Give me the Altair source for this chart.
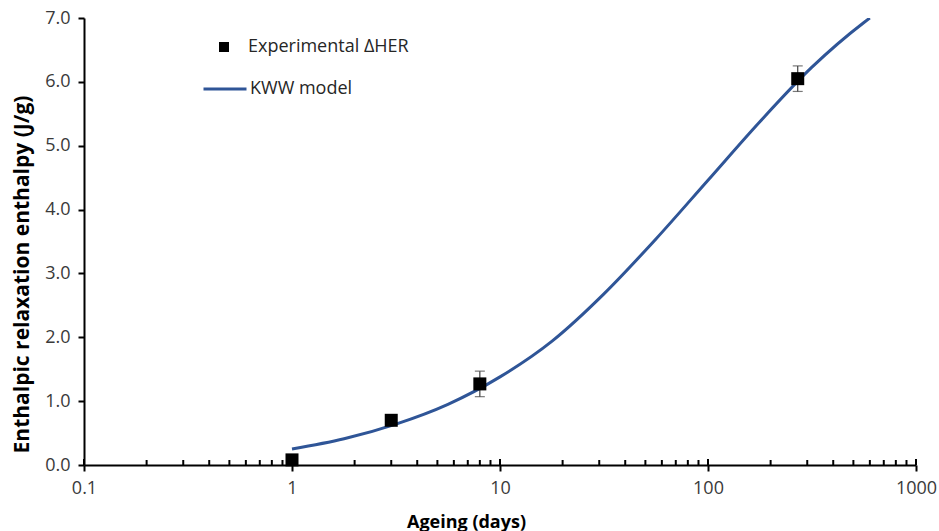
import altair as alt
import pandas as pd

# Measured enthalpy recovery (J/g) after physical ageing
exp_days = [1, 3, 8, 270]
exp_dh = [0.08, 0.70, 1.27, 6.05]
exp_err = [0.05, 0.08, 0.20, 0.20]

# KWW model curve
kww_days = [1, 1.78, 3.16, 5.62, 10, 17.8, 31.6, 56.2, 100, 178, 316, 562, 600]
kww_dh = [0.25, 0.41, 0.64, 0.95, 1.38, 1.94, 2.68, 3.54, 4.46, 5.38, 6.23, 6.93, 7.00]

# Log-axis tick positions
major_ticks = [0.1, 1, 10, 100, 1000]
minor_ticks = [m * d for d in [0.1, 1, 10, 100] for m in range(2, 10)]

W, H = 832, 447
FONT = "Open Sans"
BLUE = "#2F5597"

exp = pd.DataFrame({
    "days": exp_days,
    "dh": exp_dh,
    "lo": [v - e for v, e in zip(exp_dh, exp_err)],
    "hi": [v + e for v, e in zip(exp_dh, exp_err)],
    "series": ["Experimental ΔHER"] * len(exp_days),
})
kww = pd.DataFrame({"days": kww_days, "dh": kww_dh, "model": ["KWW model"] * len(kww_days)})
majors = pd.DataFrame({"t": major_ticks})
minors = pd.DataFrame({"t": minor_ticks})

xscale = alt.Scale(type="log", domain=[0.1, 1000])
yscale = alt.Scale(domain=[0, 7])

x_axis = alt.Axis(
    values=major_ticks, format="~g", title="Ageing (days)", grid=False, labelFlush=False,
    tickSize=6, tickWidth=2, tickColor="black", domainColor="black", domainWidth=2,
    labelFont=FONT, labelFontSize=18, labelColor="#3a3a3a", labelPadding=8,
    titleFont=FONT, titleFontSize=18, titleFontWeight="bold", titleColor="black",
    titleX=382, titleY=62, titleBaseline="alphabetic", titleAnchor="middle",
)
y_axis = alt.Axis(
    values=[0, 1, 2, 3, 4, 5, 6, 7], format=".1f",
    title="Enthalpic relaxation enthalpy (J/g)", grid=False, labelFlush=False,
    tickSize=6, tickWidth=2, tickColor="black", domainColor="black", domainWidth=2,
    labelFont=FONT, labelFontSize=18, labelColor="#3a3a3a", labelPadding=8,
    titleFont=FONT, titleFontSize=21, titleFontWeight="bold", titleColor="black",
    titleX=-56, titleY=256, titleAngle=270, titleBaseline="alphabetic", titleAnchor="middle",
)

line = alt.Chart(kww).mark_line(strokeWidth=3, interpolate="monotone", clip=True).encode(
    x=alt.X("days:Q", scale=xscale, axis=x_axis),
    y=alt.Y("dh:Q", scale=yscale, axis=y_axis),
    color=alt.Color(
        "model:N",
        scale=alt.Scale(domain=["KWW model"], range=[BLUE]),
        legend=alt.Legend(
            title=None, orient="none", legendX=118, legendY=48, padding=0,
            symbolType="stroke", symbolSize=1849, symbolStrokeWidth=3,
            labelFont=FONT, labelFontSize=18, labelColor="#262626", labelOffset=2,
            labelLimit=400,
        ),
    ),
)

bars = alt.Chart(exp).mark_rule(color="#404040", strokeWidth=1.2).encode(
    x=alt.X("days:Q", scale=xscale), y=alt.Y("lo:Q", scale=yscale), y2="hi:Q"
)
caps_hi = alt.Chart(exp).mark_tick(color="#404040", thickness=1.2, size=10, orient="horizontal").encode(
    x=alt.X("days:Q", scale=xscale), y=alt.Y("hi:Q", scale=yscale)
)
caps_lo = alt.Chart(exp).mark_tick(color="#404040", thickness=1.2, size=10, orient="horizontal").encode(
    x=alt.X("days:Q", scale=xscale), y=alt.Y("lo:Q", scale=yscale)
)
points = alt.Chart(exp).mark_point(filled=True, opacity=1, size=169, color="black").encode(
    x=alt.X("days:Q", scale=xscale),
    y=alt.Y("dh:Q", scale=yscale),
    shape=alt.Shape(
        "series:N",
        scale=alt.Scale(domain=["Experimental ΔHER"], range=["square"]),
        legend=alt.Legend(
            title=None, orient="none", legendX=131, legendY=20, padding=0,
            symbolSize=100, symbolFillColor="black", symbolStrokeWidth=0,
            labelFont=FONT, labelFontSize=18, labelColor="#262626", labelOffset=15,
            labelLimit=400,
        ),
    ),
)

# Inward-pointing ticks on the log axis (major ticks cross the axis line)
major_in = alt.Chart(majors).mark_rule(color="black", strokeWidth=2).encode(
    x=alt.X("t:Q", scale=xscale), y=alt.value(H), y2=alt.value(H - 6)
)
minor_in = alt.Chart(minors).mark_rule(color="black", strokeWidth=2).encode(
    x=alt.X("t:Q", scale=xscale), y=alt.value(H), y2=alt.value(H - 5)
)

chart = alt.layer(line, bars, caps_hi, caps_lo, points, major_in, minor_in).resolve_legend(
    color="independent", shape="independent"
).properties(
    width=W, height=H,
    autosize=alt.AutoSizeParams(type="none"),
    padding={"left": 84, "top": 18, "right": 23, "bottom": 66},
    background="white",
).configure_view(stroke=None)

chart.save("out.html", embed_options={"renderer": "svg", "actions": False})
